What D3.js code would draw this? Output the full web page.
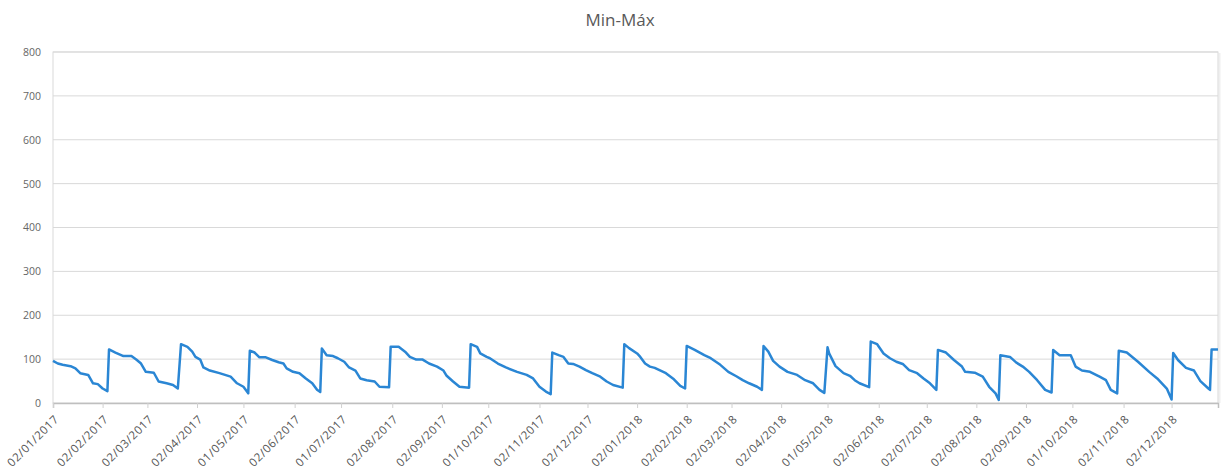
<!DOCTYPE html>
<html>
<head>
<meta charset="utf-8">
<script src="https://cdn.jsdelivr.net/npm/d3@7"></script>
<style>
  html, body { margin: 0; padding: 0; background: #fff; }
  svg { display: block; font-family: "Open Sans", "Liberation Sans", sans-serif; }
</style>
</head>
<body>
<svg id="chart" width="1223" height="472"></svg>
<script>
// Chart title
const chartTitle = "Min-Máx";

// Y axis ticks
const yTicks = [0, 100, 200, 300, 400, 500, 600, 700, 800];

// X axis labels (dd/mm/yyyy)
const xTickLabels = [
  "02/01/2017", "02/02/2017", "02/03/2017", "02/04/2017", "01/05/2017", "02/06/2017",
  "01/07/2017", "02/08/2017", "02/09/2017", "01/10/2017", "02/11/2017", "02/12/2017",
  "02/01/2018", "02/02/2018", "02/03/2018", "02/04/2018", "01/05/2018", "02/06/2018",
  "02/07/2018", "02/08/2018", "02/09/2018", "01/10/2018", "02/11/2018", "02/12/2018"
];

// Date range covered by the axis
const firstDay = "02/01/2017";
const lastDay = "31/12/2018";

// Series: days since 02/01/2017 and the Min-Máx value on that day
const dayOffset = [
  0, 3, 6, 11, 14, 17, 22, 25, 28, 31, 34,
  35, 39, 44, 49, 52, 55, 58, 63, 66, 71, 75, 78,
  80, 84, 87, 89, 92, 94, 98, 104, 111, 115, 119, 122,
  123, 126, 129, 133, 137, 141, 144, 146, 150, 154, 158, 162, 165, 167,
  168, 171, 175, 178, 182, 185, 189, 192, 196, 201, 204, 210,
  211, 216, 220, 223, 227, 231, 235, 240, 244, 246, 250, 254, 260,
  261, 265, 267, 271, 273, 278, 283, 290, 296, 300, 304, 308, 311,
  312, 316, 319, 322, 325, 329, 333, 337, 342, 346, 350, 356,
  357, 360, 365, 367, 370, 373, 376, 379, 383, 388, 392, 395,
  396, 401, 407, 411, 417, 422, 427, 431, 435, 440, 443,
  444, 447, 450, 454, 459, 465, 470, 475, 479, 482,
  484, 485, 489, 494, 498, 501, 504, 510,
  511, 515, 519, 523, 527, 531, 535, 540, 544, 548, 552,
  553, 558, 563, 568, 570, 576, 581, 585, 589, 591,
  592, 598, 602, 606, 610, 615, 620, 624,
  625, 629, 636, 639, 643, 648, 654, 658, 661, 665,
  666, 671, 678, 685, 690, 696, 699,
  700, 703, 708, 713, 717, 722, 723,
  724, 728
];
const minMax = [
  96, 90, 87, 84, 79, 68, 64, 45, 43, 33, 27,
  122, 115, 107, 107, 99, 90, 71, 69, 49, 45, 41, 33,
  134, 128, 117, 105, 99, 81, 74, 68, 60, 45, 37, 22,
  119, 115, 104, 104, 98, 93, 90, 79, 71, 68, 56, 45, 30, 25,
  124, 109, 107, 102, 94, 81, 74, 56, 52, 49, 37, 36,
  128, 128, 117, 105, 99, 99, 90, 83, 74, 62, 49, 37, 35,
  134, 128, 113, 105, 102, 90, 81, 71, 64, 56, 37, 26, 20,
  115, 109, 105, 90, 89, 83, 75, 68, 60, 49, 41, 35,
  134, 125, 113, 105, 90, 83, 80, 75, 68, 54, 39, 33,
  130, 121, 109, 102, 87, 71, 61, 52, 45, 37, 30,
  130, 117, 96, 83, 71, 64, 52, 45, 30, 23,
  127, 113, 84, 68, 62, 52, 45, 36,
  140, 134, 113, 102, 94, 89, 75, 68, 56, 45, 30,
  121, 115, 98, 83, 71, 69, 60, 37, 22, 7,
  109, 105, 92, 83, 71, 52, 30, 24,
  121, 109, 109, 83, 74, 71, 60, 52, 30, 22,
  119, 115, 94, 71, 56, 33, 8,
  114, 98, 80, 74, 50, 33, 30,
  122, 122
];

const width = 1223, height = 472;
const margin = { top: 52, right: 5, bottom: 69, left: 53 };

const parseDay = d3.timeParse("%d/%m/%Y");
const start = parseDay(firstDay);
const points = dayOffset.map((d, i) => ({ date: d3.timeDay.offset(start, d), value: minMax[i] }));

const svg = d3.select("#chart");

const x = d3.scaleTime()
  .domain([start, parseDay(lastDay)])
  .range([margin.left, width - margin.right]);

const y = d3.scaleLinear()
  .domain([0, 800])
  .range([height - margin.bottom, margin.top]);

const textColor = "#595959";
const gridColor = "#d9d9d9";

// Title
svg.append("text")
  .attr("x", 620)
  .attr("y", 26)
  .attr("text-anchor", "middle")
  .attr("font-size", 17)
  .attr("fill", textColor)
  .text(chartTitle);

// Plot frame with a soft shadow on the right
svg.append("line")
  .attr("x1", x.range()[1] + 1.5).attr("x2", x.range()[1] + 1.5)
  .attr("y1", y(800) + 1).attr("y2", y(0))
  .attr("stroke", "#efefef").attr("stroke-width", 2);
svg.append("rect")
  .attr("x", x.range()[0]).attr("y", y(800))
  .attr("width", x.range()[1] - x.range()[0])
  .attr("height", y(0) - y(800))
  .attr("fill", "none").attr("stroke", gridColor).attr("stroke-width", 1);

// Horizontal gridlines
svg.append("g")
  .selectAll("line")
  .data(yTicks.filter(t => t > 0))
  .join("line")
  .attr("x1", x.range()[0]).attr("x2", x.range()[1])
  .attr("y1", d => y(d)).attr("y2", d => y(d))
  .attr("stroke", gridColor).attr("stroke-width", 1);

// Y axis labels
const yAxis = d3.axisLeft(y).tickValues(yTicks).tickSize(0).tickPadding(12).tickFormat(d3.format("d"));
svg.append("g")
  .attr("transform", `translate(${margin.left},0)`)
  .call(yAxis)
  .call(g => g.select(".domain").remove())
  .call(g => g.selectAll("text")
    .attr("font-family", "'Open Sans', sans-serif")
    .attr("font-size", 10.5)
    .attr("fill", "#666"));

// X axis with rotated date labels
const tickDates = xTickLabels.map(parseDay);
const xAxis = d3.axisBottom(x).tickValues(tickDates).tickSize(5).tickFormat(d3.timeFormat("%d/%m/%Y"));
svg.append("g")
  .attr("transform", `translate(0,${y(0)})`)
  .call(xAxis)
  .call(g => g.select(".domain").attr("stroke", "#bfbfbf").attr("stroke-width", 1.5))
  .call(g => g.selectAll(".tick line").attr("stroke", "#d0d0d0"))
  .call(g => g.selectAll("text")
    .attr("font-family", "'Open Sans', sans-serif")
    .attr("font-size", 11.5)
    .attr("letter-spacing", 0.6)
    .attr("fill", "#555")
    .attr("text-anchor", "end")
    .attr("dy", 0)
    .attr("y", 0)
    .attr("transform", "translate(6,17) rotate(-45)"));

// Series line
svg.append("path")
  .datum(points)
  .attr("fill", "none")
  .attr("stroke", "#2a86d4")
  .attr("stroke-width", 2.5)
  .attr("stroke-linejoin", "round")
  .attr("d", d3.line().x(d => x(d.date)).y(d => y(d.value)));
</script>
</body>
</html>
